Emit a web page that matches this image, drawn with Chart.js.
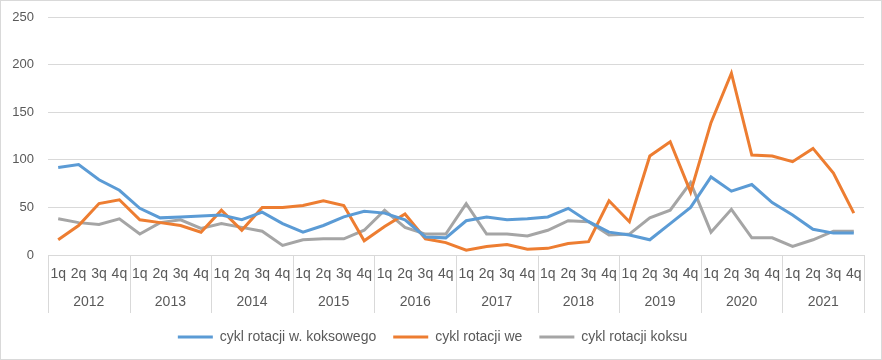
<!DOCTYPE html>
<html>
<head>
<meta charset="utf-8">
<script src="https://cdn.jsdelivr.net/npm/chart.js@4.4.0/dist/chart.umd.min.js"></script>
<style>
  html, body { margin: 0; padding: 0; background: #fff; }
  #wrap { width: 880px; height: 358px; border: 1px solid #d9d9d9; }
</style>
</head>
<body>
<div id="wrap"><canvas id="chart" width="880" height="358"></canvas></div>
<script>
// lata i kwartaly
const years = ['2012', '2013', '2014', '2015', '2016', '2017', '2018', '2019', '2020', '2021'];
const quarterNames = ['1q', '2q', '3q', '4q'];
const yTicks = [0, 50, 100, 150, 200, 250];

// dane
const cyklWKoksowego = [92, 95, 79, 68, 49, 39, 40, 41, 42, 37, 45, 33,
  24, 31, 40, 46, 44, 37, 19, 18, 36, 40, 37, 38,
  40, 49, 35, 24, 21, 16, 33, 50, 82, 67, 74, 55, 42, 27, 23, 23];
const cyklWe = [16, 31, 54, 58, 37, 34, 31, 24, 47, 26, 50, 50,
  52, 57, 52, 15, 30, 43, 17, 13, 5, 9, 11, 6,
  7, 12, 14, 57, 35, 104, 119, 66, 139, 191, 105, 104, 98, 112, 86, 44];
const cyklKoksu = [38, 34, 32, 38, 22, 34, 37, 28, 33, 29, 25, 10,
  16, 17, 17, 26, 47, 29, 22, 22, 54, 22, 22, 20,
  26, 36, 35, 21, 22, 39, 47, 76, 24, 48, 18, 18, 9, 16, 25, 25];

const quarters = [];
years.forEach(() => quarterNames.forEach(q => quarters.push(q)));

const textColor = '#595959';
const gridColor = '#d9d9d9';
const fontFamily = 'Liberation Sans, Arial, sans-serif';

function serie(label, data, color) {
  return {
    label: label,
    data: data,
    borderColor: color,
    backgroundColor: color,
    borderWidth: 3,
    pointRadius: 0,
    tension: 0,
    xAxisID: 'x'
  };
}

// linie oddzielajace lata pod osia
const yearLines = {
  id: 'yearLines',
  afterDraw(chart) {
    const x2 = chart.scales.x2;
    const c = chart.ctx;
    c.save();
    c.strokeStyle = gridColor;
    c.lineWidth = 1;
    for (let i = 0; i <= years.length; i++) {
      const px = Math.round(x2.getPixelForValue(i - 0.5)) + 0.5;
      c.beginPath();
      c.moveTo(px, chart.chartArea.bottom);
      c.lineTo(px, x2.bottom);
      c.stroke();
    }
    c.restore();
  }
};

new Chart(document.getElementById('chart'), {
  type: 'line',
  data: {
    labels: quarters,
    datasets: [
      serie('cykl rotacji w. koksowego', cyklWKoksowego, '#5B9BD5'),
      serie('cykl rotacji we', cyklWe, '#ED7D31'),
      serie('cykl rotacji koksu', cyklKoksu, '#A5A5A5')
    ]
  },
  options: {
    responsive: false,
    animation: false,
    layout: { padding: { top: 16, right: 17, bottom: 5, left: 0 } },
    plugins: {
      tooltip: { enabled: false },
      legend: {
        position: 'bottom',
        labels: {
          color: textColor,
          font: { family: fontFamily, size: 14 },
          usePointStyle: true,
          pointStyle: 'line',
          pointStyleWidth: 35,
          padding: 17
        }
      }
    },
    scales: {
      y: {
        min: 0,
        max: 250,
        afterBuildTicks: s => { s.ticks = yTicks.map(v => ({ value: v })); },
        afterFit: s => { s.width = 47; s.paddingTop = 0; s.paddingBottom = 0; },
        border: { display: false },
        grid: { color: gridColor, drawTicks: false },
        ticks: { color: textColor, font: { family: fontFamily, size: 13 }, padding: 14 }
      },
      x: {
        weight: 0,
        offset: true,
        afterFit: s => { s.height = 32; },
        border: { color: gridColor },
        grid: { display: false, drawTicks: false },
        ticks: { color: textColor, font: { family: fontFamily, size: 14 }, maxRotation: 0, autoSkip: false, padding: 11 }
      },
      x2: {
        type: 'category',
        labels: years,
        position: 'bottom',
        weight: 1,
        offset: true,
        afterFit: s => { s.height = 26; },
        border: { display: false },
        grid: { display: false, drawTicks: false },
        ticks: { color: textColor, font: { family: fontFamily, size: 14 }, maxRotation: 0, padding: 7 }
      }
    }
  },
  plugins: [yearLines]
});
</script>
</body>
</html>
